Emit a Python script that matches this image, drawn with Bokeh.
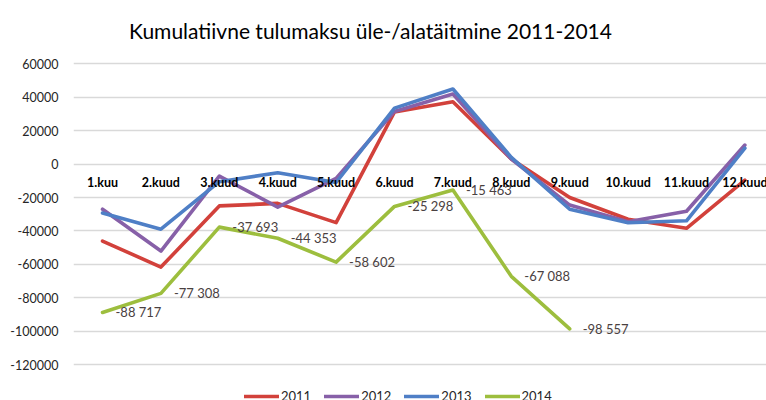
from bokeh.plotting import figure
from bokeh.models import ColumnDataSource, Range1d, FixedTicker, Legend, LegendItem, Label, PrintfTickFormatter
from bokeh.core.properties import value
from bokeh.embed import file_html
from bokeh.resources import INLINE

months = ["1.kuu", "2.kuud", "3.kuud", "4.kuud", "5.kuud", "6.kuud",
          "7.kuud", "8.kuud", "9.kuud", "10.kuud", "11.kuud", "12.kuud"]
y2011 = [-46000, -61600, -25000, -23500, -35000, 31200, 37300, 3000, -20000, -33000, -38400, -9600]
y2012 = [-27000, -52000, -7200, -25700, -8600, 31500, 41900, 3000, -24500, -34500, -28200, 11400]
y2013 = [-29300, -38900, -10500, -5200, -11000, 33500, 44900, 4000, -27000, -35100, -33900, 9500]
y2014 = [-88717, -77308, -37693, -44353, -58602, -25298, -15463, -67088, -98557]
y_ticks = [60000, 40000, 20000, 0, -20000, -40000, -60000, -80000, -100000, -120000]
series_names = ["2011", "2012", "2013", "2014"]
colors = ["#D2413B", "#8760A8", "#4F7FC6", "#9DBE3E"]
title_text = "Kumulatiivne tulumaksu üle-/alatäitmine 2011-2014"

FONT = "Lato"

p = figure(width=766, height=400, output_backend="svg", toolbar_location=None,
           x_range=Range1d(0.503, 12.37), y_range=Range1d(-141370, 97840),
           min_border_left=73, min_border_right=0, min_border_top=0, min_border_bottom=0)
p.outline_line_color = None
p.background_fill_color = "white"
p.border_fill_color = "white"

p.xaxis.visible = False
p.xgrid.visible = False
p.yaxis.ticker = FixedTicker(ticks=y_ticks)
p.yaxis.formatter = PrintfTickFormatter(format="%d")
p.yaxis.axis_line_color = None
p.yaxis.major_tick_line_color = None
p.yaxis.minor_tick_line_color = None
p.yaxis.major_tick_out = 0
p.yaxis.major_label_standoff = 15
p.yaxis.major_label_text_font = FONT
p.yaxis.major_label_text_font_size = "12.5px"
p.yaxis.major_label_text_color = "#262626"
p.ygrid.ticker = FixedTicker(ticks=y_ticks)
p.ygrid.grid_line_color = "#D9D9D9"
p.ygrid.grid_line_width = 1.3

x_all = list(range(1, len(months) + 1))
renderers = []
for name, ys, c in zip(series_names, [y2011, y2012, y2013, y2014], colors):
    xs = x_all[:len(ys)]
    r = p.line(xs, ys, line_color=c, line_width=3.6, line_join="round", line_cap="round")
    renderers.append(r)

# data labels for 2014
lab_src = ColumnDataSource(dict(x=x_all[:len(y2014)], y=y2014,
                                t=[f"{v:,}".replace(",", " ") for v in y2014]))
p.text(x="x", y="y", text="t", source=lab_src, x_offset=13, text_baseline="middle",
       text_align="left", text_font=value(FONT), text_font_size="13px", text_color="#4A4141")

# month labels along zero line
m_src = ColumnDataSource(dict(x=x_all, y=[0] * len(months), t=months))
p.text(x="x", y="y", text="t", source=m_src, y_offset=18, text_align="center",
       text_baseline="middle", text_font=value(FONT), text_font_size="12.5px",
       text_font_style="bold", text_color="#000000")

p.add_layout(Label(x=297, y=370, x_units="screen", y_units="screen", text=title_text,
                   text_align="center", text_baseline="middle", text_font=FONT,
                   text_font_size="21px", text_color="#000000"))

legend = Legend(items=[LegendItem(label=n, renderers=[r]) for n, r in zip(series_names, renderers)],
                orientation="horizontal", location=(171, -4), padding=0, margin=0,
                spacing=13, glyph_width=35, glyph_height=14, label_standoff=2, label_height=14,
                label_text_font=FONT, label_text_font_size="13px", label_text_color="#262626",
                border_line_alpha=0, background_fill_alpha=0)
p.add_layout(legend)

open("out.html", "w").write(file_html(p, INLINE))
